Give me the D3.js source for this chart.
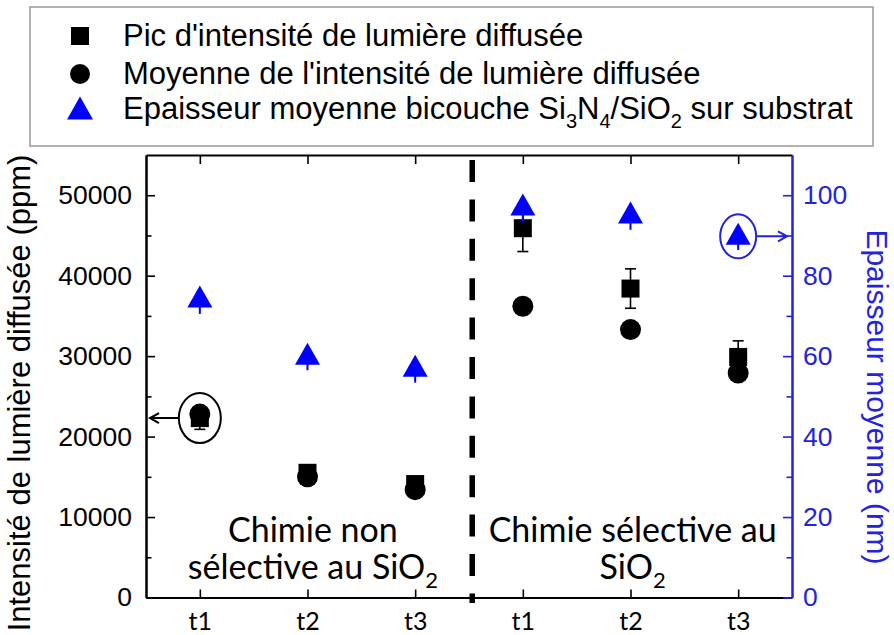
<!DOCTYPE html>
<html lang="fr">
<head>
<meta charset="UTF-8">
<script src="https://cdn.jsdelivr.net/npm/d3@7"></script>
<style>
  body { margin: 0; background: #fff; }
  text { font-family: "Liberation Sans", Arial, sans-serif; }
  .calib { font-family: Lato, "Open Sans", sans-serif; }
</style>
</head>
<body>
<svg id="chart" width="894" height="635"></svg>
<script>
// values
var categories = ['t1', 't2', 't3', 't1', 't2', 't3'];
var positions = [1, 2, 3, 4, 5, 6];
var peak = [22300, 15500, 14100, 45900, 38400, 29900];      // ppm
var peakErr = [1400, 800, 700, 2900, 2450, 2000];
var mean = [22800, 15000, 13400, 36200, 33300, 27900];      // ppm
var thick = [74.8, 60.6, 57.6, 97.7, 95.7, 90.4];           // nm
var thickErr = [4.3, 4.1, 4.2, 4.5, 4.3, 4.0];
var leftTicks = [0, 10000, 20000, 30000, 40000, 50000];
var leftMinor = [5000, 15000, 25000, 35000, 45000];
var rightTicks = [0, 20, 40, 60, 80, 100];
var rightMinor = [10, 30, 50, 70, 90];
var divider = 3.53;

var BLUE = '#0000ff', AXBLUE = '#2323dc';

var svg = d3.select('#chart');
svg.append('rect').attr('width', 894).attr('height', 635).attr('fill', '#fff');

var x = d3.scaleLinear().domain([0.5, 6.5]).range([146, 792]);
var yL = d3.scaleLinear().domain([0, 55000]).range([597.5, 155]);
var yR = d3.scaleLinear().domain([0, 110]).range([597.5, 155]);

function styleAxis(g, color, size) {
  g.selectAll('path.domain').attr('stroke', color).attr('stroke-width', 2);
  g.selectAll('.tick line').attr('stroke', color).attr('stroke-width', 1.6);
  g.selectAll('.tick text').attr('fill', color).style('font-size', size);
}

// axes, ticks pointing inward
var gB = svg.append('g').attr('transform', 'translate(0,597.5)')
  .call(d3.axisBottom(x).tickValues(positions).tickFormat(function(d, i) { return categories[i]; })
    .tickSizeInner(-8).tickSizeOuter(0).tickPadding(15));
styleAxis(gB, '#000', '25px');
gB.selectAll('.tick text').attr('class', 'calib');

var gT = svg.append('g').attr('transform', 'translate(0,155)')
  .call(d3.axisTop(x).tickValues(positions).tickFormat('').tickSizeInner(-9).tickSizeOuter(0));
styleAxis(gT, '#000', '0px');

var gLm = svg.append('g').attr('transform', 'translate(146,0)')
  .call(d3.axisLeft(yL).tickValues(leftMinor).tickFormat('').tickSizeInner(-5.5).tickSizeOuter(0));
styleAxis(gLm, '#000', '0px');
var gL = svg.append('g').attr('transform', 'translate(146,0)')
  .call(d3.axisLeft(yL).tickValues(leftTicks).tickFormat(d3.format('d'))
    .tickSizeInner(-9).tickSizeOuter(0).tickPadding(14));
styleAxis(gL, '#000', '26.5px');

var gRm = svg.append('g').attr('transform', 'translate(792,0)')
  .call(d3.axisRight(yR).tickValues(rightMinor).tickFormat('').tickSizeInner(-5.5).tickSizeOuter(0));
styleAxis(gRm, AXBLUE, '0px');
var gR = svg.append('g').attr('transform', 'translate(792,0)')
  .call(d3.axisRight(yR).tickValues(rightTicks).tickFormat(d3.format('d'))
    .tickSizeInner(-9).tickSizeOuter(0).tickPadding(11));
styleAxis(gR, AXBLUE, '26.5px');

// axis titles
svg.append('text')
  .attr('transform', 'translate(30,393) rotate(-90)')
  .attr('text-anchor', 'middle').style('font-size', '31px')
  .text('Intensité de lumière diffusée (ppm)');
svg.append('text')
  .attr('transform', 'translate(867,397) rotate(90)')
  .attr('text-anchor', 'middle').style('font-size', '30px').attr('fill', AXBLUE)
  .text('Epaisseur moyenne (nm)');

// dashed divider
svg.append('line')
  .attr('x1', x(divider)).attr('x2', x(divider))
  .attr('y1', 160).attr('y2', 603)
  .attr('stroke', '#000').attr('stroke-width', 5.5).attr('stroke-dasharray', '22 17.4');

// region labels
function regionLabel(cx, lines) {
  var t = svg.append('text').attr('class', 'calib').attr('text-anchor', 'middle')
    .style('font-size', '34px');
  lines.forEach(function(l, i) {
    t.append('tspan').attr('x', cx).attr('y', 542 + i * 37).text(l[0]);
    if (l[1]) {
      t.append('tspan').attr('dy', 9).style('font-size', '22px').text(l[1]);
    }
  });
}
regionLabel(x(2.05), [['Chimie non'], ['sélective au SiO', '2']]);
regionLabel(x(5.02), [['Chimie sélective au'], ['SiO', '2']]);

// peak error bars
var cap = 5.5;
var eb = svg.append('g').attr('stroke', '#000').attr('stroke-width', 1.6);
peak.forEach(function(v, i) {
  var cx = x(positions[i]);
  eb.append('line').attr('x1', cx).attr('x2', cx)
    .attr('y1', yL(v - peakErr[i])).attr('y2', yL(v + peakErr[i]));
  [v - peakErr[i], v + peakErr[i]].forEach(function(e) {
    eb.append('line').attr('x1', cx - cap).attr('x2', cx + cap)
      .attr('y1', yL(e)).attr('y2', yL(e));
  });
});

// peak squares
svg.append('g').selectAll('rect').data(peak).enter().append('rect')
  .attr('x', function(d, i) { return x(positions[i]) - 9; })
  .attr('y', function(d) { return yL(d) - 9; })
  .attr('width', 18).attr('height', 18).attr('fill', '#000');

// mean circles
svg.append('g').selectAll('circle').data(mean).enter().append('circle')
  .attr('cx', function(d, i) { return x(positions[i]); })
  .attr('cy', function(d) { return yL(d); })
  .attr('r', 10.5).attr('fill', '#000');

// thickness: stems then triangles
var tri = function(w, h) {
  return 'M0,' + (-h / 2) + 'L' + (w / 2) + ',' + (h / 2) + 'L' + (-w / 2) + ',' + (h / 2) + 'Z';
};
svg.append('g').selectAll('line').data(thick).enter().append('line')
  .attr('x1', function(d, i) { return x(positions[i]); })
  .attr('x2', function(d, i) { return x(positions[i]); })
  .attr('y1', function(d) { return yR(d); })
  .attr('y2', function(d, i) { return yR(d - thickErr[i]); })
  .attr('stroke', BLUE).attr('stroke-width', 2);
svg.append('g').selectAll('path').data(thick).enter().append('path')
  .attr('d', tri(25, 22))
  .attr('transform', function(d, i) { return 'translate(' + x(positions[i]) + ',' + yR(d) + ')'; })
  .attr('fill', BLUE);

// annotations: ellipse + arrow towards the matching axis
var ay = yL(peak[0]);
svg.append('ellipse').attr('cx', x(1)).attr('cy', ay).attr('rx', 21).attr('ry', 25)
  .attr('fill', 'none').attr('stroke', '#000').attr('stroke-width', 2);
svg.append('path')
  .attr('d', 'M' + (x(1) - 21) + ',' + ay + 'H150 M159,' + (ay - 5) + 'L150,' + ay + 'L159,' + (ay + 5))
  .attr('fill', 'none').attr('stroke', '#000').attr('stroke-width', 2);

var by = yR(thick[5]) + 2.5;
svg.append('ellipse').attr('cx', x(6)).attr('cy', by).attr('rx', 18).attr('ry', 22)
  .attr('fill', 'none').attr('stroke', AXBLUE).attr('stroke-width', 2);
svg.append('path')
  .attr('d', 'M' + (x(6) + 18) + ',' + by + 'H787 M778,' + (by - 5) + 'L787,' + by + 'L778,' + (by + 5))
  .attr('fill', 'none').attr('stroke', AXBLUE).attr('stroke-width', 2);

// legend
var lg = svg.append('g');
lg.append('rect').attr('x', 30).attr('y', 7).attr('width', 843).attr('height', 139)
  .attr('fill', '#fff').attr('stroke', '#999').attr('stroke-width', 1.5);
lg.append('rect').attr('x', 71).attr('y', 27).attr('width', 18).attr('height', 18).attr('fill', '#000');
lg.append('circle').attr('cx', 80).attr('cy', 74).attr('r', 10).attr('fill', '#000');
lg.append('path').attr('d', tri(26, 23)).attr('transform', 'translate(80,108)').attr('fill', BLUE);
lg.append('text').attr('x', 123).attr('y', 46).style('font-size', '31px')
  .text("Pic d'intensité de lumière diffusée");
lg.append('text').attr('x', 123).attr('y', 84).style('font-size', '31px')
  .text("Moyenne de l'intensité de lumière diffusée");
var t3 = lg.append('text').attr('x', 123).attr('y', 119).style('font-size', '31px');
[['Epaisseur moyenne bicouche Si', 0], ['3', 1], ['N', 0], ['4', 1], ['/SiO', 0], ['2', 1], [' sur substrat', 0]]
  .forEach(function(p, i, arr) {
    var prevSub = i > 0 && arr[i - 1][1];
    var ts = t3.append('tspan').text(p[0]);
    if (p[1]) ts.attr('dy', 9).style('font-size', '20px');
    else if (prevSub) ts.attr('dy', -9);
  });
</script>
</body>
</html>
